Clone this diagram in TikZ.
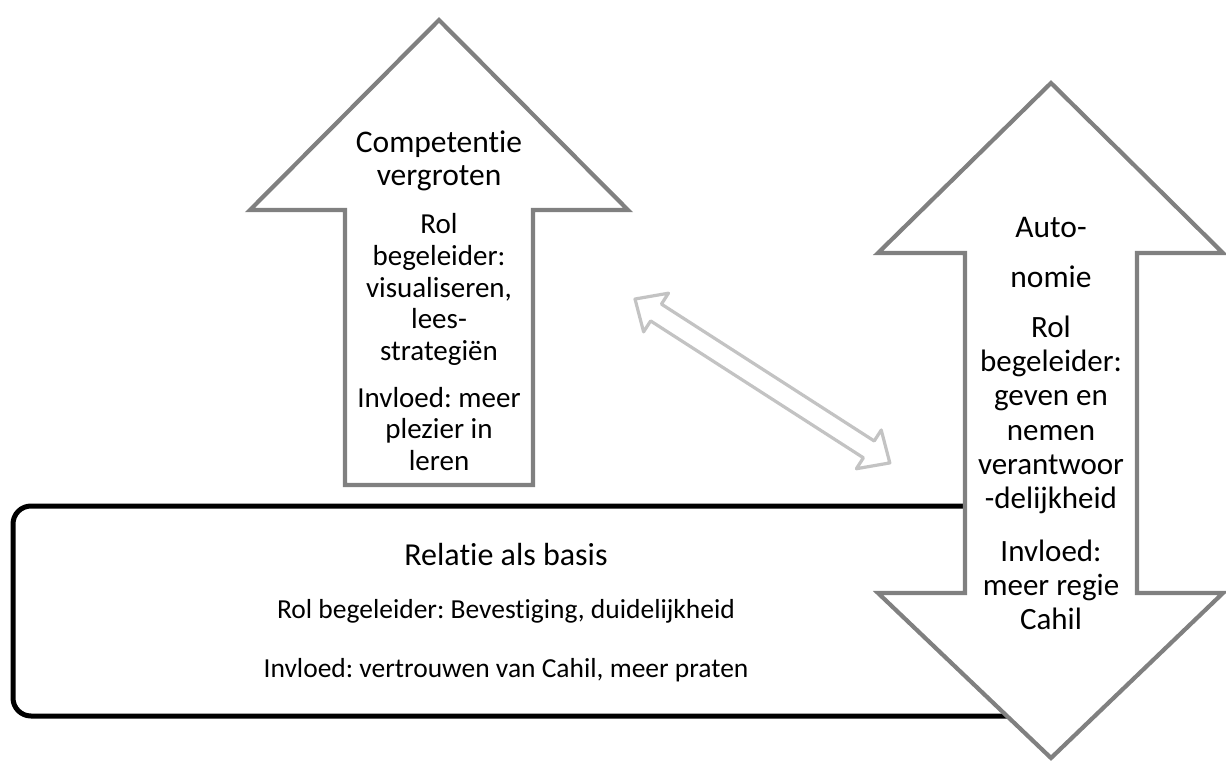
\documentclass[tikz,border=0pt]{standalone}
\usepackage{fontspec}
\setmainfont{Carlito}[Ligatures={NoCommon,NoContextual}]
\definecolor{arrowgray}{HTML}{808080}
\definecolor{linkgray}{HTML}{C3C3C3}
\frenchspacing
\begin{document}
\begin{tikzpicture}[x=1pt,y=-1pt,
  bigarrow/.style={draw=arrowgray, line width=4.2pt, fill=white, miter limit=10},
  linkarrow/.style={draw=linkgray, line width=3.2pt, fill=white, line join=round},
  basebox/.style={draw=black, line width=5pt, rounded corners=18pt},
  ttl/.style={anchor=base, inner sep=0pt, font=\fontsize{31.5}{34}\selectfont},
  lsmall/.style={anchor=base, inner sep=0pt, font=\fontsize{29}{32}\selectfont},
  rsmall/.style={anchor=base, inner sep=0pt, font=\fontsize{31}{34}\selectfont},
  btitle/.style={anchor=base, inner sep=0pt, font=\fontsize{32}{35}\selectfont},
  bsmall/.style={anchor=base, inner sep=0pt, font=\fontsize{27.5}{30}\selectfont}]
\useasboundingbox (0,0) rectangle (1226,761);

% up arrow: competentie
\draw[bigarrow] (439,20) -- (628,210) -- (533,210) -- (533,485) -- (345,485)
  -- (345,210) -- (250,210) -- cycle;

% link double arrow
\coordinate (linkA) at (635,299);
\coordinate (linkB) at (890,463);
\begin{scope}[shift={(linkA)}, rotate=-32.75, x=1pt, y=1pt]
  \draw[linkarrow] (0,0) -- (25,23) -- (25,10) -- (278,10) -- (278,23) -- (303,0)
    -- (278,-23) -- (278,-10) -- (25,-10) -- (25,-23) -- cycle;
\end{scope}

% base rounded rectangle
\draw[basebox] (13,506) rectangle (1040,716);

% up-down arrow: autonomie
\draw[bigarrow] (1051,83) -- (1223,253) -- (1137,253) -- (1137,593) -- (1223,593)
  -- (1051,758) -- (878,593) -- (965,593) -- (965,253) -- (878,253) -- cycle;

% texts up arrow
\node[ttl] (comp1) at (439,152) {Competentie};
\node[ttl] (comp2) at (439,185) {vergroten};
\foreach \txt/\yy [count=\i] in {Rol/233, begeleider:/265, {visualiseren,}/297,
  lees-/328, strategiën/360, {Invloed: meer}/407, {plezier in}/438, leren/470}
  \node[lsmall] (upt\i) at (439,\yy) {\txt};

% texts autonomie arrow
\node[ttl] (auto1) at (1051,237) {Auto-};
\node[ttl] (auto2) at (1051,287) {nomie};
\foreach \txt/\yy [count=\i] in {Rol/337, begeleider:/371, {geven en}/405,
  nemen/440, verantwoor/474, -delijkheid/508, Invloed:/561, {meer regie}/595, Cahil/629}
  \node[rsmall] (aut\i) at (1051,\yy) {\txt};

% texts base
\node[btitle] (base1) at (506,565) {Relatie als basis};
\node[bsmall] (base2) at (506,618) {Rol begeleider: Bevestiging, duidelijkheid};
\node[bsmall] (base3) at (506,677) {Invloed: vertrouwen van Cahil, meer praten};
\end{tikzpicture}
\end{document}
